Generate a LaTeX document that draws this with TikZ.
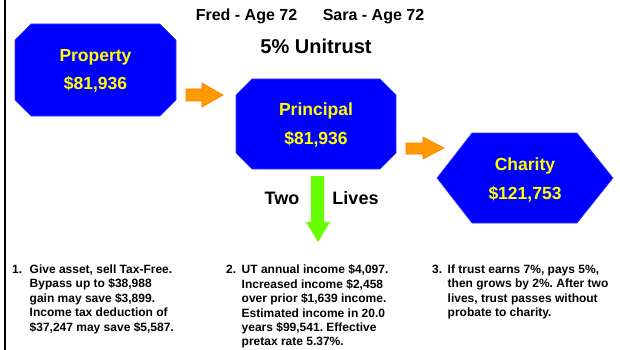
\documentclass[tikz,border=0pt]{standalone}
\usepackage{fontspec}
\setmainfont{Liberation Sans}
\frenchspacing
\definecolor{boxblue}{HTML}{0000FF}
\definecolor{boxedge}{HTML}{3A3AFF}
\definecolor{labelyellow}{HTML}{FFFF00}
\definecolor{arroworange}{HTML}{FF9A00}
\definecolor{arrowedge}{HTML}{FF7A00}
\definecolor{arrowgreen}{HTML}{66FF00}
\begin{document}
\begin{tikzpicture}[x=1pt,y=-1pt,
  boxfill/.style={fill=boxblue, draw=boxedge, line width=0.6pt},
  boxtext/.style={text=labelyellow, font=\bfseries\fontsize{17.5}{21}\selectfont, inner sep=0pt, anchor=base},
  headtext/.style={font=\bfseries\fontsize{#1}{#1}\selectfont, inner sep=0pt, anchor=base},
  orangearrow/.style={fill=arroworange, draw=arrowedge, line width=0.6pt},
  greenarrow/.style={fill=arrowgreen, draw=none},
  notenum/.style={font=\bfseries\fontsize{12}{14.4}\selectfont, inner sep=0pt, anchor=base west},
  notebody/.style={font=\bfseries\fontsize{12}{14.4}\selectfont, align=left, inner sep=0pt, anchor=north west}]
\useasboundingbox (0,0) rectangle (620,350);
\fill[white] (0,0) rectangle (620,350);

% left rule
\draw[line width=2pt] (4.5,0) -- (4.5,350);

% headings
\node[headtext=16] (fred) at (246.5,20.7) {Fred - Age 72};
\node[headtext=16] (sara) at (373.5,20.7) {Sara - Age 72};
\node[headtext=20] (title) at (316,54) {5\% Unitrust};

% property box (chamfered)
\draw[boxfill] (31,24) -- (160,24) -- (176,40) -- (176,100) -- (160,116)
  -- (31,116) -- (15,100) -- (15,40) -- cycle;
\node[boxtext] (property) at (95.5,61.7) {Property};
\node[boxtext] (propval) at (95.5,90) {\$81,936};

% principal box (chamfered)
\draw[boxfill] (252,79) -- (380,79) -- (396,95) -- (396,153) -- (380,169)
  -- (252,169) -- (236,153) -- (236,95) -- cycle;
\node[boxtext] (principal) at (316,115) {Principal};
\node[boxtext] (princval) at (316,144) {\$81,936};

% charity box (hexagon)
\draw[boxfill] (437,178) -- (472,133) -- (577,133) -- (613,178)
  -- (577,223) -- (472,223) -- cycle;
\node[boxtext] (charity) at (525,170.7) {Charity};
\node[boxtext] (charval) at (525,199.3) {\$121,753};

% block arrows
\draw[orangearrow] (186,89) -- (202,89) -- (202,83) -- (223,95) -- (202,107)
  -- (202,101) -- (186,101) -- cycle;
\draw[orangearrow] (406,143) -- (423,143) -- (423,137) -- (444,148) -- (423,159)
  -- (423,154) -- (406,154) -- cycle;
\fill[greenarrow] (311,176) -- (324,176) -- (324,222) -- (330,222) -- (318,242)
  -- (306,222) -- (311,222) -- cycle;
\node[headtext=18] (two) at (282,204.3) {Two};
\node[headtext=18] (lives) at (355.5,204.3) {Lives};

% notes
\node[notenum] (n1) at (12,273.5) {1.};
\node[notebody] (t1) at (29.5,264.7) {Give asset, sell Tax-Free.\\Bypass up to \$38,988\\gain may save \$3,899.\\Income tax deduction of\\\$37,247 may save \$5,587.};
\node[notenum] (n2) at (226,273.5) {2.};
\node[notebody] (t2) at (241.5,264.7) {UT annual income \$4,097.\\Increased income \$2,458\\over prior \$1,639 income.\\Estimated income in 20.0\\years \$99,541. Effective\\pretax rate 5.37\%.};
\node[notenum] (n3) at (432,273.5) {3.};
\node[notebody] (t3) at (447.5,264.7) {If trust earns 7\%, pays 5\%,\\then grows by 2\%. After two\\lives, trust passes without\\probate to charity.};
\end{tikzpicture}
\end{document}
